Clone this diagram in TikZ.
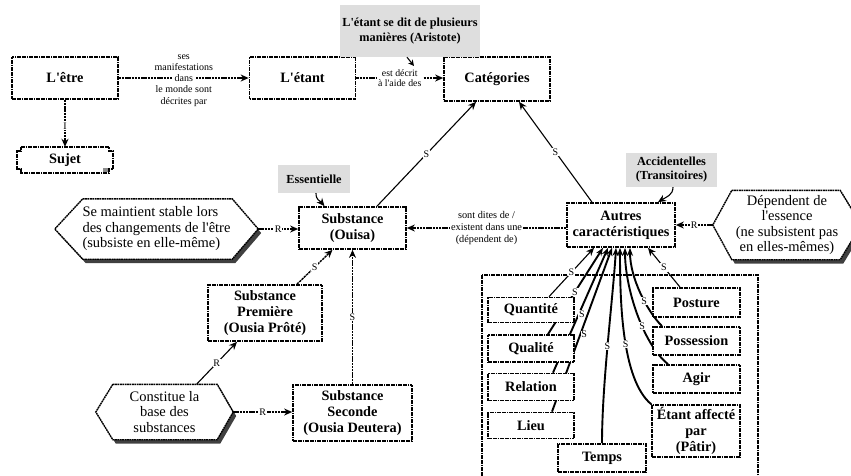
\documentclass[tikz,border=0pt]{standalone}
\usepackage{fontspec}
\setmainfont{Liberation Serif}[Ligatures=TeXOff]
\usetikzlibrary{arrows.meta,backgrounds,calc}

\tikzset{
  boxln/.style={line width=1.7pt, dash pattern=on 1.8pt off 0.6pt},
  cbox/.style={draw, boxln, fill=white, inner sep=1pt, align=center, font=\fontsize{14.3}{16}\selectfont\bfseries},
  stext/.style={inner sep=0pt, align=center, font=\fontsize{14.3}{16}\selectfont\bfseries},
  note/.style={fill=black!13, inner sep=2pt, align=center, font=\fontsize{12.3}{15}\selectfont\bfseries},
  hexn/.style={inner sep=0pt, align=center, font=\fontsize{14.5}{15.5}\selectfont},
  conn/.style={line width=1.4pt, dash pattern=on 2.4pt off 0.8pt, -{Stealth[length=8pt,width=7pt]}},
  sconn/.style={line width=1.1pt, -{Stealth[length=8pt,width=7pt]}},
  thconn/.style={line width=1.9pt, -{Stealth[length=8pt,width=6pt]}},
  elab/.style={fill=white, inner sep=0.8pt, font=\fontsize{10}{10}\selectfont},
  tlab/.style={inner sep=0.5pt, align=center, font=\fontsize{10}{11.5}\selectfont},
}

\newcommand{\hexdraw}[3]{%
  \begin{pgfonlayer}{background}
  \fill[black!75, transform canvas={shift={(3pt,-4pt)}}]
    ($(#1.north west)+(#2,0)$) -- ($(#1.north east)+(-#3,0)$) -- (#1.east)
    -- ($(#1.south east)+(-#3,0)$) -- ($(#1.south west)+(#2,0)$) -- (#1.west) -- cycle;
  \draw[boxln, line width=1.4pt, fill=white]
    ($(#1.north west)+(#2,0)$) -- ($(#1.north east)+(-#3,0)$) -- (#1.east)
    -- ($(#1.south east)+(-#3,0)$) -- ($(#1.south west)+(#2,0)$) -- (#1.west) -- cycle;
  \end{pgfonlayer}}

\begin{document}
\begin{tikzpicture}[x=1pt,y=-1pt]
\useasboundingbox (0,0) rectangle (851,475);

% top row
\node[cbox, minimum width=106pt, minimum height=42pt] (etre) at (65,78) {L'être};
\node[cbox, minimum width=106pt, minimum height=42pt] (etant) at (302.5,78) {L'étant};
\node[cbox, minimum width=106pt, minimum height=44pt] (categ) at (497,79) {Catégories};
\node[note, minimum width=140pt, minimum height=52pt] (aris) at (410,31) {L'étant se dit de plusieurs\\manières (Aristote)};
\node[stext, minimum width=96pt, minimum height=26pt] (sujet) at (65,160) {Sujet};

% notes
\node[note, minimum width=72pt, minimum height=28pt] (ess) at (314,179) {Essentielle};
\node[note, minimum width=91pt, minimum height=34pt, font=\fontsize{12.3}{14}\selectfont\bfseries] (acc) at (671.5,170) {Accidentelles\\(Transitoires)};

% middle
\node[cbox, minimum width=107pt, minimum height=42pt] (subst) at (352.5,228) {Substance\\(Ouisa)};
\node[cbox, minimum width=108pt, minimum height=44pt] (autres) at (621,225) {Autres\\caractéristiques};
\node[hexn, minimum width=203pt, minimum height=60pt, align=left] (h1) at (156.5,229) {Se maintient stable lors\\des changements de l'être\\(subsiste en elle-même)};
\node[hexn, minimum width=148pt, minimum height=69pt] (h2) at (787,225) {Dépendent de\\l'essence\\(ne subsistent pas\\en elles-mêmes)};
\node[hexn, minimum width=137pt, minimum height=55pt] (h3) at (164.5,412) {Constitue la\\base des\\substances};
\node[cbox, minimum width=114pt, minimum height=56pt] (sprem) at (265,313) {Substance\\Première\\(Ousia Prôté)};
\node[cbox, minimum width=119pt, minimum height=56pt] (ssec) at (352.5,413) {Substance\\Seconde\\(Ousia Deutera)};

% categories
\node[cbox, minimum width=86pt, minimum height=25pt] (quant) at (531,310) {Quantité};
\node[cbox, minimum width=86pt, minimum height=27pt] (qual) at (531,348.5) {Qualité};
\node[cbox, minimum width=86pt, minimum height=27pt] (rel) at (531,387) {Relation};
\node[cbox, minimum width=86pt, minimum height=26pt] (lieu) at (531,425.5) {Lieu};
\node[cbox, minimum width=88pt, minimum height=28pt] (temps) at (602,458) {Temps};
\node[cbox, minimum width=87pt, minimum height=29pt] (post) at (696.5,302.5) {Posture};
\node[cbox, minimum width=87pt, minimum height=28pt] (poss) at (696.5,341) {Possession};
\node[cbox, minimum width=87pt, minimum height=28pt] (agir) at (696.5,379) {Agir};
\node[cbox, minimum width=88pt, minimum height=52pt] (etaff) at (696,431) {Étant affecté\\par\\(Pâtir)};

% hexagons
\hexdraw{h1}{28}{26}
\hexdraw{h2}{19}{21}
\hexdraw{h3}{17}{16}

% Sujet shape
\draw[boxln] ($(sujet.north west)+(4,0)$) -- ($(sujet.north east)+(-4,0)$) -- ++(0,4) -- ++(4,0)
  -- ($(sujet.south east)+(0,-4)$) -- ++(-4,0) -- ++(0,4) -- ($(sujet.south west)+(4,0)$)
  -- ++(0,-4) -- ++(-4,0) -- ($(sujet.north west)+(0,4)$) -- ++(4,0) -- cycle;
\fill[black!45] ($(sujet.south east)+(-10,-5)$) rectangle ($(sujet.south east)+(-5,-1)$);

% connectors top
\draw[conn] (etre) -- (etant)
  node[pos=0.5, tlab, fill=white, inner sep=3pt] {dans}
  node[pos=0.5, tlab, yshift=15.5pt] {ses\\manifestations}
  node[pos=0.5, tlab, yshift=-18pt] {le monde sont\\décrites par};
\draw[conn] (etant.east) -- (etant.east -| categ.west)
  node[midway, tlab, fill=white, inner sep=1.5pt, font=\fontsize{9.8}{10}\selectfont] {est décrit\\à l'aide des};
\draw[conn] (etre) -- (sujet) node[pos=0.56, elab] {I};
\coordinate (arpt) at (414,66);
\draw[sconn, -{Stealth[length=6pt,width=6pt]}] ([xshift=-3pt]aris.south) -- (arpt);

% to categories
\draw[sconn] ([xshift=24.5pt]subst.north) -- ([xshift=-21pt]categ.south) node[pos=0.5, elab] {S};
\draw[sconn] ([xshift=-29pt]autres.north) -- ([xshift=22pt]categ.south) node[pos=0.5, elab] {S};

% middle connectors
\draw[conn] (autres.west |- subst.east) -- (subst.east)
  node[midway, tlab, fill=white, inner sep=1pt, font=\fontsize{10.3}{12}\selectfont] {sont dites de /\\existent dans une\\(dépendent de)};
\draw[conn] (h1.east) -- (h1.east -| subst.west) node[midway, elab] {R};
\draw[conn] (h2.west) -- (h2.west -| autres.east) node[midway, elab] {R};
\draw[conn] ([xshift=32pt]sprem.north) -- ([xshift=-20pt]subst.south) node[midway, elab] {S};
\draw[conn] (ssec.north) -- (ssec.north |- subst.south) node[midway, elab] {S};
\draw[sconn] ([xshift=32pt]h3.north) -- ([xshift=-28pt]sprem.south) node[midway, elab] {R};
\draw[conn] (h3.east) -- (h3.east -| ssec.west) node[midway, elab] {R};

% note arrows
\draw[sconn] ([xshift=2pt]ess.south) .. controls +(0,7) and +(-5,-6) .. ([xshift=-28pt]subst.north);
\draw[sconn] ([xshift=1.5pt]acc.south) .. controls +(0,8) and +(8,-5) .. ([xshift=37pt]autres.north);

% category edges
\begin{pgfonlayer}{background}
\draw[boxln] (482,275) rectangle (758,500);
\draw[sconn] ([xshift=18pt]quant.north) -- ([xshift=-27pt]autres.south) node[pos=0.5, elab] {S};
\draw[thconn] ([xshift=17pt]qual.north) -- ([xshift=-18pt]autres.south) node[pos=0.49, elab] {S};
\draw[thconn] ([xshift=22pt]rel.north) -- ([xshift=-13pt]autres.south) node[pos=0.47, elab, xshift=3pt] {S};
\draw[thconn] ([xshift=21pt]lieu.north) -- ([xshift=-9pt]autres.south) node[pos=0.47, elab, xshift=4pt] {S};
\draw[thconn] (temps.north) .. controls +(0,-60) and +(-3,50) .. ([xshift=-5pt]autres.south) node[pos=0.48, elab] {S};
\draw[thconn] (etaff.north west) .. controls +(-30,-25) and +(0,50) .. ([xshift=-1pt]autres.south) node[pos=0.45, elab] {S};
\draw[thconn] ([xshift=-28.5pt]agir.north) .. controls +(-25,-20) and +(0,40) .. ([xshift=4pt]autres.south) node[pos=0.4, elab] {S};
\draw[thconn] ([xshift=-34.5pt]poss.north) .. controls +(-15,-15) and +(0,30) .. ([xshift=9pt]autres.south) node[pos=0.4, elab] {S};
\draw[sconn] ([xshift=-16.5pt]post.north) -- ([xshift=27pt]autres.south) node[pos=0.5, elab] {S};
\end{pgfonlayer}
\end{tikzpicture}
\end{document}
